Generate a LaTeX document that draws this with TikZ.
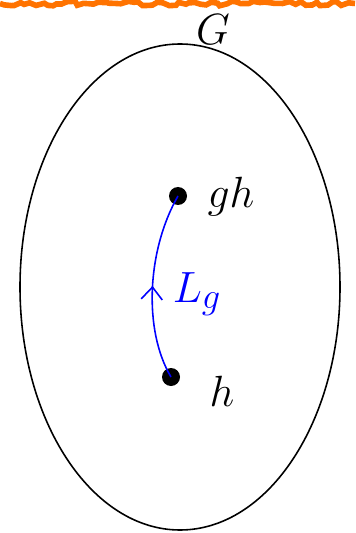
\documentclass[tikz,border=0pt]{standalone}
\usetikzlibrary{decorations.markings,decorations.pathmorphing,arrows.meta,shapes.geometric}
\begin{document}
\begin{tikzpicture}[x=0.02cm,y=-0.02cm,
  lab/.style={font=\fontsize{29}{34}\selectfont},
  dot/.style={circle,fill=black,inner sep=0pt,minimum size=18*0.02cm},
  bluepath/.style={blue,line width=0.9pt,postaction={decorate},
    decoration={markings,mark=at position 0.5 with {\arrow{Straight Barb[length=7pt,width=12pt,line width=0.9pt]}}}}]
\useasboundingbox (0,0) rectangle (355,533);
\draw[orange!90!red,line width=3.2pt,decorate,decoration={random steps,segment length=3pt,amplitude=1.3pt}] (0,3.5) -- (355,3.5);
\node[draw,ellipse,minimum width=320*0.02cm,minimum height=486*0.02cm,inner sep=0pt,line width=0.9pt] (G) at (180,287) {};
\node[lab] (Gl) at (213,30) {$G$};
\node[dot] (gh) at (178,196) {};
\node[dot] (h) at (171,377) {};
\node[lab] (ghl) at (231,197) {$gh$};
\node[lab] (hl) at (222,391) {$h$};
\node[lab,blue] (Lg) at (197,294) {$L_g$};
\draw[bluepath] (h.center) .. controls (143,330) and (147,250) .. (gh.center);
\end{tikzpicture}
\end{document}
